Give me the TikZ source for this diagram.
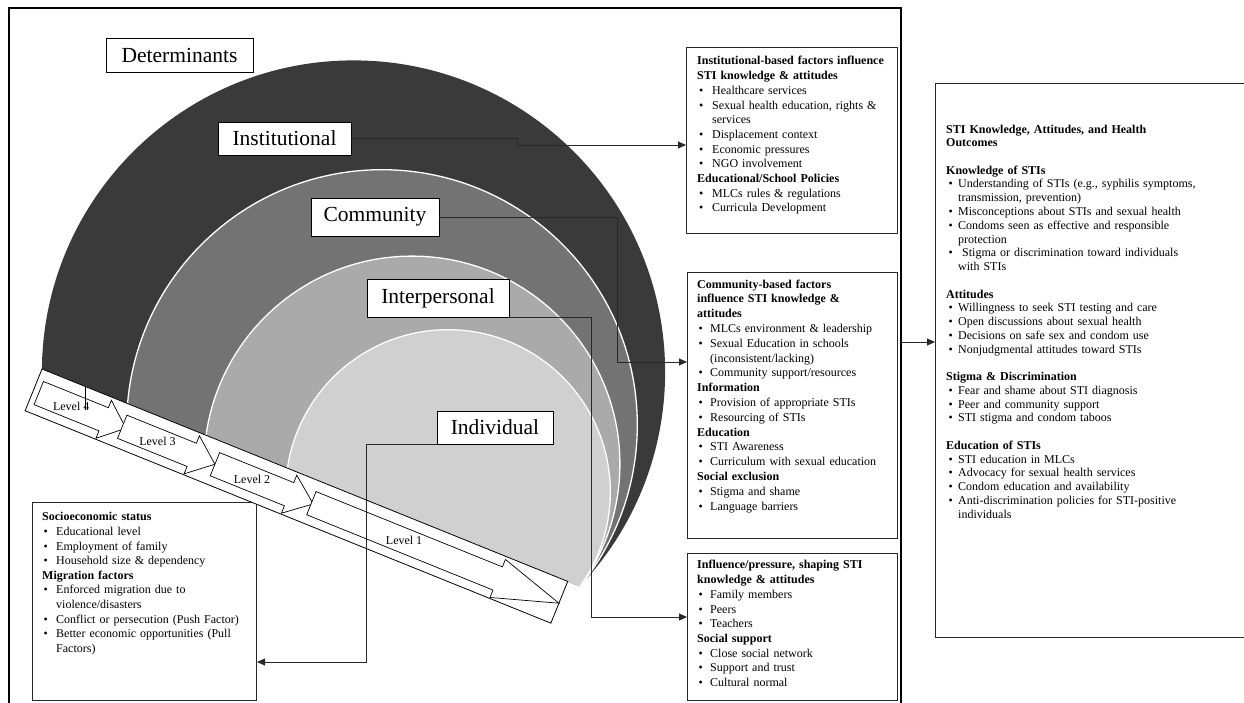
\documentclass[tikz,border=0pt]{standalone}
\usepackage{fontspec}
\setmainfont{Liberation Serif}
\usetikzlibrary{arrows.meta,calc}

\definecolor{ringA}{RGB}{58,58,58}
\definecolor{ringB}{RGB}{115,115,115}
\definecolor{ringC}{RGB}{170,170,170}
\definecolor{ringD}{RGB}{208,208,208}
\definecolor{edge}{RGB}{40,40,40}

% list helpers for the text boxes
\newlength\bindent
\newlength\boffset
\newcommand\hd[1]{\par\noindent\textbf{#1}}
\newcommand\itm[1]{\par\noindent\hangindent=\bindent\hangafter=1\hbox to \bindent{\hspace{\boffset}\textbullet\hfil}#1}
\newcommand\gap{\par\vspace{13.5pt}}
% one block arrow of the level bar: body start, head start, tip (bar coordinates)
\newcommand\levelarrow[3]{\draw[levelarrow] (#1,11) -- (#2,11) -- (#2,3) -- (#3,23.5) -- (#2,44) -- (#2,36) -- (#1,36) -- cycle;}

\tikzset{
  infobox/.style={draw=edge, line width=1pt, fill=white, anchor=north west, inner sep=0pt},
  infotext/.style={anchor=north west, inner sep=0pt, text width=300pt},
  lblbox/.style={draw=black, line width=0.9pt, fill=white, inner sep=0pt, font=\fontsize{21.5}{24}\selectfont},
  lvltext/.style={inner sep=0pt, font=\fontsize{12}{14}\selectfont},
  conn/.style={draw=edge, line width=0.9pt, -{Triangle[length=8pt,width=7pt]}},
  levelarrow/.style={draw=black, line width=0.7pt, fill=white},
  ring/.style={draw=white, line width=1.3pt},
}

\begin{document}
\begin{tikzpicture}[x=1pt,y=-1pt]
\clip (0,0) rectangle (1244,702);
\fill[white] (0,0) rectangle (1244,702);

% outer frame of the determinants panel
\draw[line width=2pt] (9,710) -- (9,8) -- (901,8) -- (901,710);

% nested rings, cut along the level bar
\begin{scope}
  \clip[shift={(42,369)},rotate=-22] (-400,0) rectangle (1000,-900);
  \fill[ringA] (353.5,372) circle[radius=311.6pt];
  \filldraw[ring, fill=ringB] (382,425) circle[radius=255.3pt];
  \filldraw[ring, fill=ringC] (412,464) circle[radius=207.9pt];
  \filldraw[ring, fill=ringD] (448,492) circle[radius=162.3pt];
\end{scope}

% text boxes
\node[infobox, minimum width=211pt, minimum height=186pt] (instb) at (686,47) {};
\node[infotext, font=\fontsize{12}{14.7}\selectfont] (instt) at (697,50) {\raggedright
  \setlength\bindent{15pt}\setlength\boffset{2pt}%
  \hd{Institutional-based factors influence\newline STI knowledge \& attitudes}
  \itm{Healthcare services}
  \itm{Sexual health education, rights \&\newline services}
  \itm{Displacement context}
  \itm{Economic pressures}
  \itm{NGO involvement}
  \hd{Educational/School Policies}
  \itm{MLCs rules \& regulations}
  \itm{Curricula Development}\par};

\node[infobox, minimum width=210pt, minimum height=266pt] (commb) at (687,272) {};
\node[infotext, font=\fontsize{12}{14.8}\selectfont] (commt) at (697,273) {\raggedright
  \setlength\bindent{13pt}\setlength\boffset{1.5pt}%
  \hd{Community-based factors\newline influence STI knowledge \&\newline attitudes}
  \itm{MLCs environment \& leadership}
  \itm{Sexual Education in schools\newline (inconsistent/lacking)}
  \itm{Community support/resources}
  \hd{Information}
  \itm{Provision of appropriate STIs}
  \itm{Resourcing of STIs}
  \hd{Education}
  \itm{STI Awareness}
  \itm{Curriculum with sexual education}
  \hd{Social exclusion}
  \itm{Stigma and shame}
  \itm{Language barriers}\par};

\node[infobox, minimum width=210pt, minimum height=147pt] (inflb) at (687,553) {};
\node[infotext, font=\fontsize{12}{14.7}\selectfont] (inflt) at (697,554) {\raggedright
  \setlength\bindent{13pt}\setlength\boffset{1.5pt}%
  \hd{Influence/pressure, shaping STI\newline knowledge \& attitudes}
  \itm{Family members}
  \itm{Peers}
  \itm{Teachers}
  \hd{Social support}
  \itm{Close social network}
  \itm{Support and trust}
  \itm{Cultural normal}\par};

\node[infobox, minimum width=224pt, minimum height=198pt] (socb) at (32,502) {};
\node[infotext, font=\fontsize{12}{14.6}\selectfont] (soct) at (42,506) {\raggedright
  \setlength\bindent{14pt}\setlength\boffset{1.5pt}%
  \hd{Socioeconomic status}
  \itm{Educational level}
  \itm{Employment of family}
  \itm{Household size \& dependency}
  \hd{Migration factors}
  \itm{Enforced migration due to\newline violence/disasters}
  \itm{Conflict or persecution (Push Factor)}
  \itm{Better economic opportunities (Pull\newline Factors)}\par};

\node[infobox, minimum width=330pt, minimum height=554pt] (outb) at (935,83) {};
\node[infotext, font=\fontsize{12}{13.8}\selectfont] (outt) at (946,119) {\raggedright
  \setlength\bindent{12pt}\setlength\boffset{2.5pt}%
  \hd{STI Knowledge, Attitudes, and Health\newline Outcomes}
  \gap
  \hd{Knowledge of STIs}
  \itm{Understanding of STIs (e.g., syphilis symptoms,\newline transmission, prevention)}
  \itm{Misconceptions about STIs and sexual health}
  \itm{Condoms seen as effective and responsible\newline protection}
  \itm{\ Stigma or discrimination toward individuals\newline with STIs}
  \gap
  \hd{Attitudes}
  \itm{Willingness to seek STI testing and care}
  \itm{Open discussions about sexual health}
  \itm{Decisions on safe sex and condom use}
  \itm{Nonjudgmental attitudes toward STIs}
  \gap
  \hd{Stigma \& Discrimination}
  \itm{Fear and shame about STI diagnosis}
  \itm{Peer and community support}
  \itm{STI stigma and condom taboos}
  \gap
  \hd{Education of STIs}
  \itm{STI education in MLCs}
  \itm{Advocacy for sexual health services}
  \itm{Condom education and availability}
  \itm{Anti-discrimination policies for STI-positive\newline individuals}\par};

% level bar with its four block arrows
\begin{scope}[shift={(42,369)},rotate=-22]
  \draw[line width=0.8pt, fill=white] (0,0) rectangle (567,45);
  \levelarrow{6}{76}{100}
  \levelarrow{96}{171}{196}
  \levelarrow{196}{276}{302}
  \levelarrow{300}{501}{567}
  \node[lvltext] (l4) at (41,23.5) {Level 4};
  \node[lvltext] (l3) at (134,23.5) {Level 3};
  \node[lvltext] (l2) at (236,23.5) {Level 2};
  \node[lvltext] (l1) at (400,23.5) {Level 1};
\end{scope}
\coordinate (tickA) at (85,386);
\coordinate (tickB) at (85,410);
\draw[line width=0.7pt] (tickA) -- (tickB);

% level labels
\node[lblbox, minimum width=147pt, minimum height=34pt] (det) at (179.5,55) {Determinants};
\node[lblbox, minimum width=133pt, minimum height=33pt] (inst) at (284.5,138.5) {Institutional};
\node[lblbox, minimum width=128pt, minimum height=38pt] (comm) at (375,217) {Community};
\node[lblbox, minimum width=142pt, minimum height=38pt] (inter) at (438,298) {Interpersonal};
\node[lblbox, minimum width=116pt, minimum height=33pt] (indiv) at (495,427.5) {Individual};

% connectors
\coordinate (k1) at (517,145);
\draw[conn] (inst.east) -| (k1) -- (k1 -| instb.west);
\coordinate (k2) at (617,362);
\draw[conn] (comm.east) -| (k2) -- (k2 -| commb.west);
\coordinate (k3) at (591,617);
\draw[conn] (inter.south east) -| (k3) -- (k3 -| inflb.west);
\coordinate (k4) at (366,662);
\draw[conn] (indiv.south west) -| (k4) -- (k4 -| socb.east);
\coordinate (k5) at (902,342);
\draw[conn] (k5) -- (k5 -| outb.west);
\end{tikzpicture}
\end{document}
